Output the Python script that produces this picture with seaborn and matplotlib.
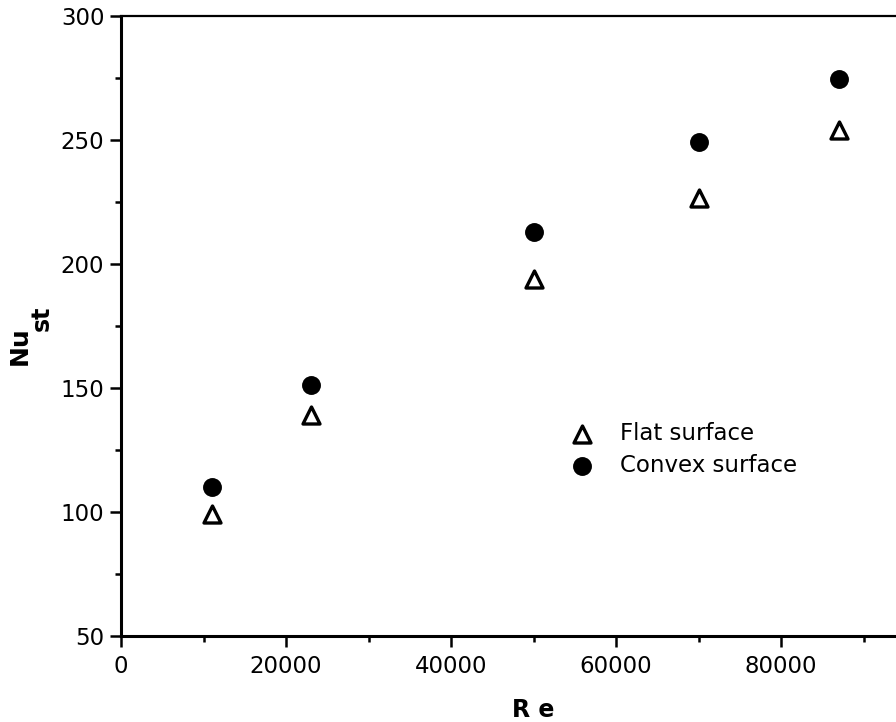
import matplotlib
matplotlib.use("Agg")
import matplotlib.pyplot as plt
import seaborn as sns
import pandas as pd
from matplotlib.ticker import MultipleLocator

re_values = [11000, 23000, 50000, 70000, 87000]
nu_flat = [99, 139, 194, 226.5, 254]
nu_convex = [110, 151, 213, 249, 274.5]
series_names = ["Flat surface", "Convex surface"]
x_ticks = [0, 20000, 40000, 60000, 80000]
y_ticks = [50, 100, 150, 200, 250, 300]

sns.set_theme(style="ticks")
plt.rcParams["font.family"] = ["DejaVu Sans"]
plt.rcParams["text.color"] = "black"

fig = plt.figure(figsize=(8.96, 7.22), dpi=100)
ax = fig.add_axes([121 / 896, 1 - 636 / 722, 825 / 896, (636 - 15.7) / 722])

df_flat = pd.DataFrame({"Re": re_values, "Nu": nu_flat})
df_convex = pd.DataFrame({"Re": re_values, "Nu": nu_convex})

sns.scatterplot(data=df_flat, x="Re", y="Nu", ax=ax, marker="^", s=150,
                facecolor="white", edgecolor="black", linewidth=2.4,
                label=series_names[0], zorder=3)
sns.scatterplot(data=df_convex, x="Re", y="Nu", ax=ax, marker="o", s=185,
                color="black", edgecolor="black", linewidth=0,
                label=series_names[1], zorder=3)

ax.set_xlim(0, 100000)
ax.set_ylim(50, 300)
ax.set_xticks(x_ticks)
ax.set_xticklabels([str(v) for v in x_ticks])
ax.set_yticks(y_ticks)
ax.set_yticklabels([str(v) for v in y_ticks])
ax.xaxis.set_minor_locator(MultipleLocator(10000))
ax.yaxis.set_minor_locator(MultipleLocator(25))

ax.tick_params(axis="both", which="major", direction="out", length=8, width=1.8,
               labelsize=16.5, colors="black", labelcolor="black", pad=4)
ax.tick_params(axis="both", which="minor", direction="out", length=4, width=1.8,
               colors="black")
ax.tick_params(axis="x", which="major", pad=6)

for side in ["left", "bottom"]:
    ax.spines[side].set_linewidth(2.2)
    ax.spines[side].set_color("black")
ax.spines["top"].set_linewidth(1.6)
ax.spines["top"].set_color("black")
ax.spines["right"].set_visible(False)

ax.set_xlabel("R e", fontsize=17, fontweight="bold", labelpad=14, color="black")
ax.set_ylabel("")
fig.text(20 / 896, 1 - 346 / 722, "Nu", rotation=90, fontsize=18,
         fontweight="bold", ha="center", va="center", color="black")
fig.text(42 / 896, 1 - 318 / 722, "st", rotation=90, fontsize=17,
         fontweight="bold", ha="center", va="center", color="black")

leg = ax.legend(loc="upper left", bbox_to_anchor=(0.528, 0.364), frameon=False,
                fontsize=16.5, handletextpad=1.05, labelspacing=0.42,
                borderpad=0, handlelength=1.2)
for t in leg.get_texts():
    t.set_color("black")

fig.savefig("out.png", dpi=100)
